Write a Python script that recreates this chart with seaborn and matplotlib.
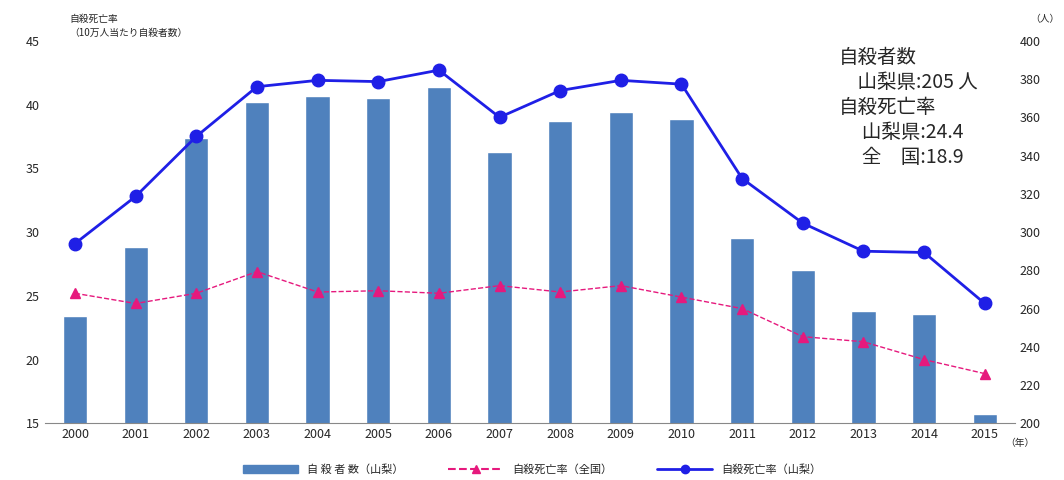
import matplotlib
matplotlib.use("Agg")
import matplotlib.pyplot as plt
import seaborn as sns
import pandas as pd

years = [str(y) for y in range(2000, 2016)]
deaths_yamanashi = [256, 292, 349, 368, 371, 370, 376, 342, 358, 363, 359, 297, 280, 259, 257, 205]
rate_national = [25.2, 24.4, 25.2, 26.9, 25.3, 25.4, 25.2, 25.8, 25.3, 25.8, 24.9, 24.0, 21.8, 21.4, 20.0, 18.9]
rate_yamanashi = [29.1, 32.8, 37.5, 41.4, 41.9, 41.8, 42.7, 39.0, 41.1, 41.9, 41.6, 34.2, 30.7, 28.5, 28.4, 24.4]

sns.set_style("white")
plt.rcParams['font.family'] = ['Noto Sans CJK JP', 'DejaVu Sans']

fig = plt.figure(figsize=(10.64, 4.8), dpi=100)
ax = fig.add_axes([0.042, 0.118, 0.912, 0.797])
ax2 = ax.twinx()

df = pd.DataFrame({"year": years, "deaths": deaths_yamanashi})
sns.barplot(data=df, x="year", y="deaths", ax=ax2, color="#4f81bd", width=0.4, saturation=1)
ax2.set_ylim(200, 400)
ax2.set_yticks(range(200, 401, 20))
ax2.set_ylabel("")
ax2.set_xlabel("")

ax.set_zorder(ax2.get_zorder() + 1)
ax.patch.set_visible(False)
x = list(range(len(years)))
ax.plot(x, rate_national, color="#e6197d", ls="--", lw=1, marker="^", ms=7)
ax.plot(x, rate_yamanashi, color="#1f1fe6", lw=2, marker="o", ms=9)
ax.set_ylim(15, 45)
ax.set_xlim(-0.5, 15.5)
ax.set_yticks(range(15, 46, 5))
ax.set_xticks(x)
ax.set_xticklabels(years)
for a in (ax, ax2):
    a.tick_params(labelsize=9, length=0)
    for s in a.spines.values():
        s.set_visible(False)
ax.spines['bottom'].set_visible(True)
ax.spines['bottom'].set_color('#888888')

fig.text(0.065, 0.955, "自殺死亡率", fontsize=7)
fig.text(0.065, 0.925, "（10万人当たり自殺者数）", fontsize=7)
fig.text(0.968, 0.955, "（人）", fontsize=7)
fig.text(0.945, 0.07, "（年）", fontsize=7)

ax.text(0.818, 0.985, "自殺者数\n　山梨県:205 人\n自殺死亡率\n　 山梨県:24.4\n　 全　国:18.9",
        transform=ax.transAxes, fontsize=14, va="top", linespacing=1.25)

from matplotlib.patches import Patch
from matplotlib.lines import Line2D
handles = [Patch(color="#4f81bd"),
           Line2D([], [], color="#e6197d", ls="--", marker="^"),
           Line2D([], [], color="#1f1fe6", marker="o", lw=2)]
labels = ["自 殺 者 数（山梨）", "自殺死亡率（全国）", "自殺死亡率（山梨）"]
fig.legend(handles, labels, loc="lower center", ncol=3, frameon=False, fontsize=8,
           bbox_to_anchor=(0.5, -0.01), handlelength=5, columnspacing=4)

fig.savefig("out.png")
